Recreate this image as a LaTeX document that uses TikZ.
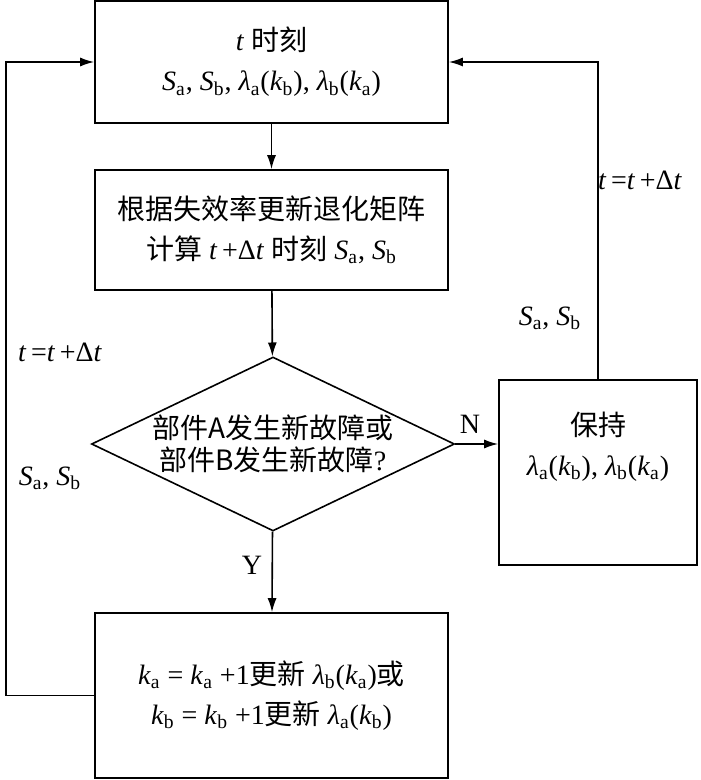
\documentclass[tikz,border=0pt]{standalone}
\usepackage{fontspec}
\setmainfont{Liberation Serif}
\newfontfamily\cjk{Noto Sans CJK SC}
\usetikzlibrary{shapes.geometric,arrows.meta}
\newcommand{\vi}[1]{\textit{#1}}
\newcommand{\sub}[1]{\textsubscript{#1}}

\begin{document}
\begin{tikzpicture}[x=0.5pt,y=-0.5pt,font=\fontsize{14}{20}\selectfont,
    box/.style={draw, line width=0.8pt, align=center, inner sep=0pt},
    arr/.style={-{Latex[length=7pt,width=4.5pt]}, line width=0.8pt}]
      \useasboundingbox (0,0) rectangle (700,780);
      % boxes
      \node[box, minimum width=176.5pt, minimum height=61pt] (now) at (271.5,62) {\vi{t} {\cjk 时刻}\\ \vi{S}\sub{a}, \vi{S}\sub{b}, \vi{λ}\sub{a}(\vi{k}\sub{b}), \vi{λ}\sub{b}(\vi{k}\sub{a})};
      \node[box, minimum width=176.5pt, minimum height=60pt] (calc) at (271.5,230) {{\cjk 根据失效率更新退化矩阵}\\ {\cjk 计算} \vi{t}\,+Δ\vi{t} {\cjk 时刻} \vi{S}\sub{a}, \vi{S}\sub{b}};
      \node[box, diamond, minimum width=181.5pt, minimum height=87pt,
        label={[align=center, font=\fontsize{14}{16}\selectfont]center:{\cjk 部件A发生新故障或}\\ {\cjk 部件B发生新故障}?}] (ask) at (273,444) {};
      \node[box, minimum width=99pt, minimum height=92.5pt,
        label={[align=center, yshift=13pt]center:{\cjk 保持}\\ \vi{λ}\sub{a}(\vi{k}\sub{b}), \vi{λ}\sub{b}(\vi{k}\sub{a})}] (hold) at (598,472.5) {};
      \node[box, minimum width=176.5pt, minimum height=82.5pt] (upd) at (271.5,695.5) {\vi{k}\sub{a} = \vi{k}\sub{a} +1{\cjk 更新} \vi{λ}\sub{b}(\vi{k}\sub{a}){\cjk 或}\\ \vi{k}\sub{b} = \vi{k}\sub{b} +1{\cjk 更新} \vi{λ}\sub{a}(\vi{k}\sub{b})};
      % flow
      \draw[arr] (now) -- (calc);
      \draw[arr] (calc) -- (ask);
      \draw[arr] (ask) -- (upd);
      \draw[arr] (ask.east) -- (ask.east -| hold.west);
      \draw[arr] (upd.west) -- ++(-88,0) |- (now.west);
      \draw[arr] (hold.north) |- (now.east);
      % labels
      \node (no) at (470,424) {N};
      \node (yes) at (252,565) {Y};
      \node (stepl) at (60,352) {\vi{t}\,=\vi{t}\,+Δ\vi{t}};
      \node (statel) at (50,478) {\vi{S}\sub{a}, \vi{S}\sub{b}};
      \node (stepr) at (640,180) {\vi{t}\,=\vi{t}\,+Δ\vi{t}};
      \node (stater) at (550,318) {\vi{S}\sub{a}, \vi{S}\sub{b}};
    \end{tikzpicture}
\end{document}
